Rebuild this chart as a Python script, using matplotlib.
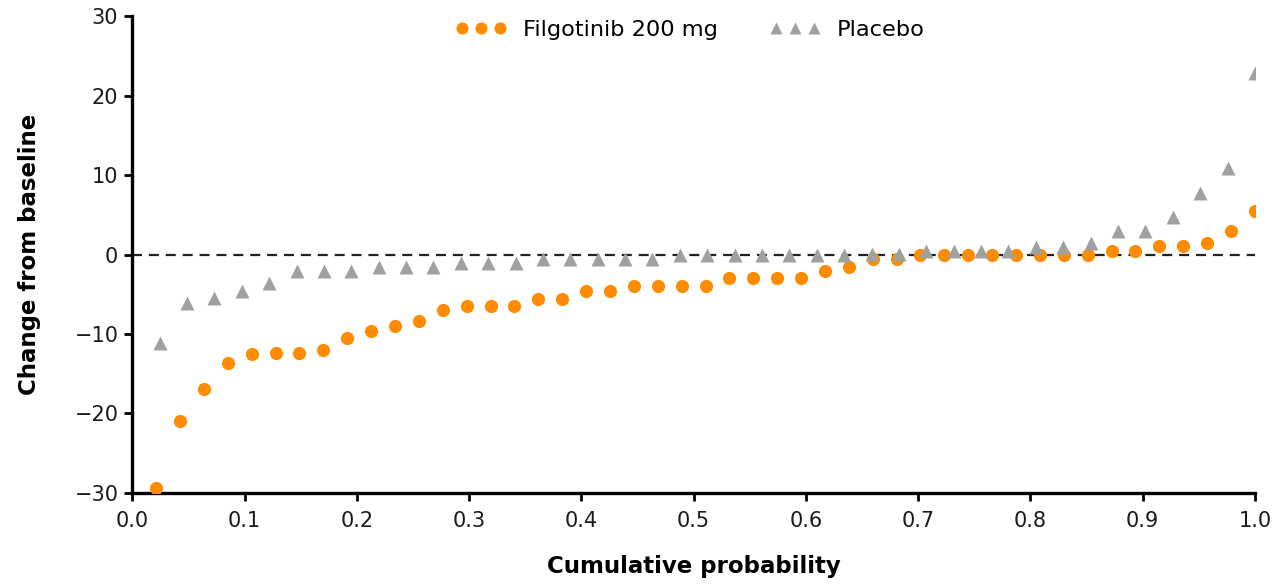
import numpy as np
import matplotlib
matplotlib.use("Agg")
import matplotlib.pyplot as plt

# sorted change from baseline per patient, one value per subject
filgotinib = [-29.4, -20.9, -16.9, -13.6, -12.5, -12.4, -12.4, -12.0, -10.5, -9.6,
              -9.0, -8.4, -7.0, -6.5, -6.5, -6.5, -5.6, -5.6, -4.6, -4.6,
              -4.0, -4.0, -4.0, -4.0, -2.9, -2.9, -2.9, -2.9, -2.0, -1.5,
              -0.6, -0.6, 0.0, 0.0, 0.0, 0.0, 0.0, 0.0, 0.0, 0.0,
              0.45, 0.45, 1.05, 1.05, 1.45, 3.0, 5.5]
placebo = [-11.1, -6.1, -5.5, -4.6, -3.6, -2.1, -2.1, -2.1, -1.6, -1.6,
           -1.6, -1.1, -1.1, -1.1, -0.6, -0.6, -0.6, -0.6, -0.6, 0.0,
           0.0, 0.0, 0.0, 0.0, 0.0, 0.0, 0.1, 0.1, 0.4, 0.4,
           0.4, 0.4, 0.9, 0.9, 1.5, 3.0, 3.0, 4.8, 7.8, 10.9, 22.9]

xticks = [0.0, 0.1, 0.2, 0.3, 0.4, 0.5, 0.6, 0.7, 0.8, 0.9, 1.0]
yticks = [-30, -20, -10, 0, 10, 20, 30]

ORANGE = "#ff8c00"
GREY = "#9fa19f"

def cum_prob(vals):
    n = len(vals)
    return np.arange(1, n + 1) / n

plt.rcParams['font.family'] = ['DejaVu Sans']

fig = plt.figure(figsize=(12.74, 5.84), dpi=100)
ax = fig.add_axes([0.1038, 0.156, 0.8812, 0.816])

ax.axhline(0, xmin=0, xmax=1, color="#222222", lw=1.6, ls=(0, (4.5, 3.1)), zorder=1)

ax.plot(cum_prob(filgotinib), filgotinib, ls="none", marker="o", ms=9.5,
        color=ORANGE, mec="none", label="Filgotinib 200 mg", zorder=3)
ax.plot(cum_prob(placebo), placebo, ls="none", marker="^", ms=10,
        color=GREY, mec="none", label="Placebo", zorder=4)

ax.set_xlim(0, 1.0)
ax.set_ylim(-30, 30)
ax.set_xticks(xticks)
ax.set_xticklabels([f"{t:.1f}" for t in xticks])
ax.set_yticks(yticks)
ax.set_yticklabels([f"{t}".replace("-", "\u2212") for t in yticks])

for s in ["top", "right"]:
    ax.spines[s].set_visible(False)
for s in ["left", "bottom"]:
    ax.spines[s].set_linewidth(2.4)
    ax.spines[s].set_color("black")
ax.tick_params(direction="out", length=6, width=2, labelsize=15,
               labelcolor="#1a1a1a", color="black")
ax.tick_params(axis="x", pad=7)
ax.tick_params(axis="y", pad=4)

ax.set_xlabel("Cumulative probability", fontsize=16.5, fontweight="bold", labelpad=17)
ax.set_ylabel("Change from baseline", fontsize=16.5, fontweight="bold", labelpad=24)

leg = fig.legend(*ax.get_legend_handles_labels(), loc="center",
                 bbox_to_anchor=(0.5415, 0.9486), ncol=2, frameon=False,
                 numpoints=3, fontsize=16.2, handlelength=2.3, handletextpad=0.7,
                 columnspacing=2.3, borderpad=0, borderaxespad=0)
# smaller markers in the legend than on the plot
leg.legend_handles[0].set_markersize(8.7)
leg.legend_handles[1].set_markersize(8.5)

fig.savefig("out.png", dpi=100)
